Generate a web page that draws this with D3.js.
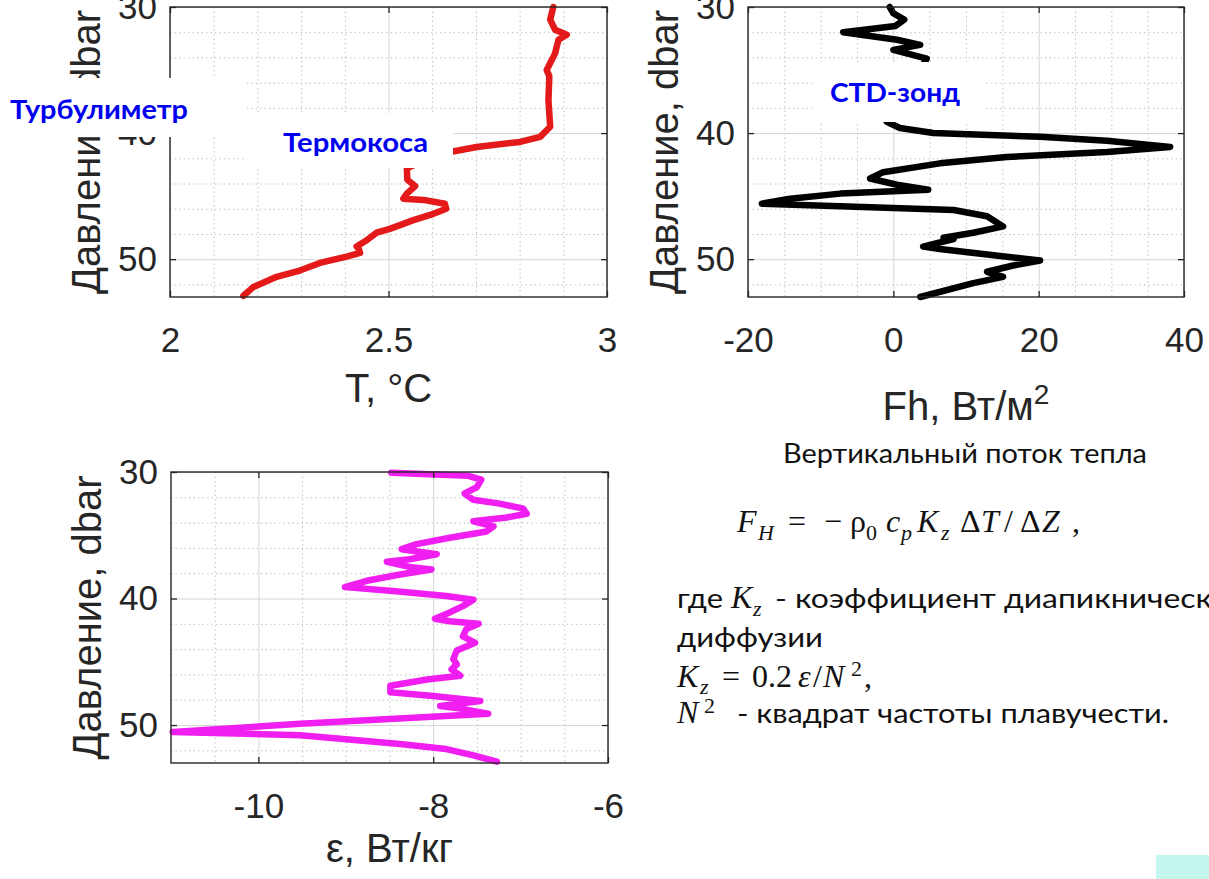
<!DOCTYPE html>
<html>
<head>
<meta charset="utf-8">
<script src="https://cdn.jsdelivr.net/npm/d3@7"></script>
<style>
  body { margin: 0; background: #fff; }
  svg { display: block; }
</style>
</head>
<body>
<div id="chart-area"></div>
<script>
// Термокоса: температура по давлению
var tempP = [30.0, 31.0, 31.8, 32.2, 32.6, 33.7, 35.0, 35.5, 37.4, 39.5, 40.3, 40.7, 41.1, 41.5, 42.2, 42.8,
             43.7, 44.2, 44.8, 45.2, 45.3, 45.6, 46.0, 46.4, 46.9, 47.6, 47.9, 48.5, 49.0, 49.1, 49.5, 49.8,
             50.3, 50.9, 51.4, 52.2, 52.9];
var tempT = [2.877, 2.870, 2.881, 2.908, 2.889, 2.881, 2.862, 2.868, 2.866, 2.870, 2.847, 2.801, 2.702, 2.641, 2.58, 2.542,
             2.543, 2.561, 2.542, 2.534, 2.580, 2.629, 2.632, 2.603, 2.557, 2.503, 2.473, 2.450, 2.427, 2.431, 2.435, 2.404,
             2.343, 2.297, 2.244, 2.191, 2.168];

// CTD-зонд: вертикальный поток тепла
var fluxP = [30.0, 30.5, 31.0, 31.5, 32.0, 32.6, 33.0, 33.4, 34.1, 36.5, 39.1, 39.6, 40.0, 40.3, 40.6, 41.1,
             41.5, 41.9, 42.4, 43.1, 43.6, 44.1, 44.5, 44.8, 45.2, 45.6, 45.8, 46.1, 46.6, 47.4, 47.9, 48.3,
             48.4, 49.0, 49.2, 49.8, 50.1, 50.5, 51.0, 51.4, 51.9, 53.0];
var fluxF = [-0.5, 0.0, 1.5, 0.3, -6.9, 0.5, 3.7, 0.0, 4.6, 2.0, -0.9, 0.9, 5.5, 20.2, 29.4, 38.1,
             29.4, 15.6, 6.4, -1.4, -3.2, 0.5, 4.8, -7.3, -14.2, -18.1, -7.3, 8.3, 12.9, 15.1, 11.0, 6.9,
             8.3, 4.1, 6.4, 15.6, 20.2, 16.5, 12.9, 15.1, 11.0, 3.7];

// Турбулиметр: скорость диссипации (log10)
var epsP = [30.05, 30.3, 30.6, 31.2, 31.7, 32.2, 32.5, 32.9, 33.3, 33.6, 33.9, 34.3, 34.7, 35.2, 35.7, 36.1,
            36.5, 36.9, 37.1, 37.5, 37.7, 38.1, 38.6, 39.1, 39.4, 39.8, 40.1, 40.6, 41.1, 41.6, 41.8, 42.0,
            42.4, 43.0, 43.5, 44.1, 44.8, 45.2, 45.6, 46.1, 46.4, 46.9, 47.4, 47.7, 48.1, 48.5, 48.7, 49.1,
            49.9, 50.55, 50.8, 51.5, 51.9, 52.4, 52.9];
var epsE = [-8.48, -7.6, -7.45, -7.50, -7.64, -7.54, -7.24, -6.97, -6.93, -7.16, -7.54, -7.31, -7.39, -7.81, -8.19, -8.36,
            -7.96, -8.27, -8.53, -8.27, -8.02, -8.38, -8.76, -9.01, -8.46, -7.85, -7.54, -7.66, -7.81, -7.98, -7.81, -7.48,
            -7.62, -7.66, -7.52, -7.73, -7.77, -7.73, -7.79, -7.69, -8.07, -8.49, -8.49, -8.0, -7.46, -7.92, -7.69, -7.37,
            -9.52, -10.98, -9.52, -8.38, -7.85, -7.54, -7.27];

var presTicks = [30, 40, 50];
var presMinor = [32, 34, 36, 38, 42, 44, 46, 48, 52];
var tempTicks = [2, 2.5, 3];
var tempMinor = [2.1, 2.2, 2.3, 2.4, 2.6, 2.7, 2.8, 2.9];
var fluxTicks = [-20, 0, 20, 40];
var fluxMinor = [-15, -10, -5, 5, 10, 15, 25, 30, 35];
var epsTicks = [-10, -8, -6];
var epsMinor = [-10.5, -9.5, -9, -8.5, -7.5, -7, -6.5];

var axisFont = "'Liberation Sans', Arial, sans-serif";
var textFont = "Lato, 'Open Sans', sans-serif";
var mathFont = "'Liberation Serif', 'DejaVu Serif', serif";

var svg = d3.select('#chart-area')
    .append('svg')
    .attr('width', 1209)
    .attr('height', 879);

svg.append('rect').attr('width', 1209).attr('height', 879).attr('fill', '#fff');

function panel(o) {
    var w = o.right - o.left,
        h = o.bottom - o.top;

    var x = d3.scaleLinear().domain(o.xDomain).range([0, w]);
    var y = d3.scaleLinear().domain([30, 53]).range([0, h]);

    var g = svg.append('g')
        .attr('transform', 'translate(' + o.left + ', ' + o.top + ')');

    // minor grid
    g.append('g')
        .call(d3.axisBottom(x).tickValues(o.xMinor).tickSize(h).tickFormat(''));
    g.append('g')
        .call(d3.axisRight(y).tickValues(presMinor).tickSize(w).tickFormat(''));
    // major grid
    g.append('g').attr('class', 'major')
        .call(d3.axisBottom(x).tickValues(o.xTicks).tickSize(h).tickFormat(''));
    g.append('g').attr('class', 'major')
        .call(d3.axisRight(y).tickValues(presTicks).tickSize(w).tickFormat(''));
    g.selectAll('.domain').remove();
    g.selectAll('.tick line')
        .attr('stroke', '#c2c2c2')
        .attr('stroke-width', 1)
        .attr('stroke-dasharray', '1.5,3');
    g.selectAll('.major .tick line')
        .attr('stroke', '#d6d6d6')
        .attr('stroke-dasharray', null);

    var line = d3.line()
        .x(function(d) { return x(d[0]); })
        .y(function(d) { return y(d[1]); });

    g.append('path')
        .datum(d3.zip(o.values, o.pres))
        .attr('d', line)
        .attr('fill', 'none')
        .attr('stroke', o.color)
        .attr('stroke-width', 6.5)
        .attr('stroke-linejoin', 'round')
        .attr('stroke-linecap', 'round');

    // inner ticks on all four sides
    var tk = g.append('g').attr('class', 'ticks');
    tk.append('g').attr('transform', 'translate(0,' + h + ')')
        .call(d3.axisBottom(x).tickValues(o.xTicks).tickSize(-6).tickFormat(''));
    tk.append('g')
        .call(d3.axisTop(x).tickValues(o.xTicks).tickSize(-6).tickFormat(''));
    tk.append('g')
        .call(d3.axisLeft(y).tickValues(presTicks).tickSize(-6).tickFormat(''));
    tk.append('g').attr('transform', 'translate(' + w + ',0)')
        .call(d3.axisRight(y).tickValues(presTicks).tickSize(-6).tickFormat(''));
    tk.selectAll('.domain').remove();
    tk.selectAll('line').attr('stroke', '#262626').attr('stroke-width', 1.3);

    g.append('rect')
        .attr('width', w).attr('height', h)
        .attr('fill', 'none')
        .attr('stroke', '#262626')
        .attr('stroke-width', 1.4);

    // tick labels
    var xl = g.append('g').attr('transform', 'translate(0,' + h + ')')
        .call(d3.axisBottom(x).tickValues(o.xTicks).tickSize(0).tickPadding(30)
            .tickFormat(function(d) { return String(d); }));
    var yl = g.append('g')
        .call(d3.axisLeft(y).tickValues(presTicks).tickSize(0).tickPadding(13)
            .tickFormat(function(d) { return String(d); }));
    [xl, yl].forEach(function(a) {
        a.select('.domain').remove();
        a.selectAll('text')
            .attr('font-family', axisFont)
            .attr('font-size', '35px')
            .attr('fill', '#262626');
    });

    // axis titles
    var xt = g.append('text')
        .attr('x', w / 2)
        .attr('y', o.xTitleY - o.top)
        .attr('text-anchor', 'middle')
        .attr('font-family', axisFont)
        .attr('font-size', '40px')
        .attr('fill', '#262626')
        .text(o.xTitle);
    if (o.xSup) {
        xt.append('tspan').attr('dy', -16).attr('font-size', '28px').text(o.xSup);
    }

    g.append('text')
        .attr('transform', 'translate(-70,' + (h / 2) + ') rotate(-90)')
        .attr('text-anchor', 'middle')
        .attr('font-family', axisFont)
        .attr('font-size', '40px')
        .attr('fill', '#262626')
        .text('Давление, dbar');
}

panel({ left: 170, right: 607, top: 7, bottom: 297,
        xDomain: [2, 3], xTicks: tempTicks, xMinor: tempMinor,
        values: tempT, pres: tempP, color: '#e41a1a',
        xTitle: 'T, °C', xTitleY: 402 });

panel({ left: 748, right: 1184, top: 7, bottom: 297,
        xDomain: [-20, 40], xTicks: fluxTicks, xMinor: fluxMinor,
        values: fluxF, pres: fluxP, color: '#000',
        xTitle: 'Fh, Вт/м', xSup: '2', xTitleY: 420 });

panel({ left: 171, right: 608, top: 472, bottom: 763,
        xDomain: [-11, -6], xTicks: epsTicks, xMinor: epsMinor,
        values: epsE, pres: epsP, color: '#f01ef0',
        xTitle: 'ε, Вт/кг', xTitleY: 862 });

// подписи приборов на белых плашках
var boxes = [
    { x: 0, y: 78, w: 247, h: 59 },
    { x: 247, y: 113, w: 206, h: 55 },
    { x: 812, y: 62, w: 173, h: 60 }
];
svg.selectAll('rect.plate')
    .data(boxes)
    .enter()
    .append('rect')
    .attr('class', 'plate')
    .attr('x', function(d) { return d.x; })
    .attr('y', function(d) { return d.y; })
    .attr('width', function(d) { return d.w; })
    .attr('height', function(d) { return d.h; })
    .attr('fill', '#fff');

var tags = [
    { t: 'Турбулиметр', x: 10, y: 119, len: 178 },
    { t: 'Термокоса', x: 283, y: 152, len: 145 },
    { t: 'CTD-зонд', x: 830, y: 102, len: 130 }
];
svg.selectAll('text.tag')
    .data(tags)
    .enter()
    .append('text')
    .attr('class', 'tag')
    .attr('x', function(d) { return d.x; })
    .attr('y', function(d) { return d.y; })
    .attr('textLength', function(d) { return d.len; })
    .attr('lengthAdjust', 'spacingAndGlyphs')
    .attr('font-family', textFont)
    .attr('font-weight', 700)
    .attr('font-size', '27px')
    .attr('fill', '#0000f0')
    .text(function(d) { return d.t; });

// текст справа
function plain(t, x, y, len) {
    return svg.append('text')
        .attr('x', x).attr('y', y)
        .attr('textLength', len)
        .attr('lengthAdjust', 'spacingAndGlyphs')
        .attr('font-family', textFont)
        .attr('font-size', '27px')
        .attr('fill', '#111')
        .text(t);
}

// p = [text, x, italic, shift]; shift > 0 is a subscript, < 0 a superscript
function math(parts, y) {
    parts.forEach(function(p) {
        svg.append('text')
            .attr('x', p[1])
            .attr('y', y + (p[3] || 0))
            .attr('font-family', mathFont)
            .attr('font-style', p[2] ? 'italic' : 'normal')
            .attr('font-size', p[3] ? '22px' : '32px')
            .attr('fill', '#111')
            .text(p[0]);
    });
}

plain('Вертикальный поток тепла', 783, 463, 364);

math([['F', 737, 1], ['H', 758, 1, 8], ['=', 788, 0], ['−', 824, 0], ['ρ', 850, 0], ['0', 866, 0, 8],
      ['c', 886, 1], ['p', 901, 1, 8], ['K', 917, 1], ['z', 941, 1, 8], ['Δ', 960, 0], ['T', 981, 1],
      ['/', 1004, 0], ['Δ', 1020, 0], ['Z', 1042, 1], [',', 1072, 0]], 532);

plain('где', 677, 608, 46);
math([['K', 731, 1], ['z', 753, 1, 8]], 608);
plain('- коэффициент диапикническ', 775, 608, 437);

plain('диффузии', 677, 647, 146);

math([['K', 677, 1], ['z', 700, 1, 7], ['=', 722, 0], ['0.2', 752, 0], ['ε', 798, 1], ['/', 813, 0],
      ['N', 823, 1], ['2', 851, 0, -11], [',', 864, 0]], 687);

math([['N', 677, 1], ['2', 704, 0, -10]], 723);
plain('- квадрат частоты плавучести.', 737, 723, 432);

svg.append('rect')
    .attr('x', 1156).attr('y', 855)
    .attr('width', 53).attr('height', 24)
    .attr('fill', '#c5f7ee');
</script>
</body>
</html>
